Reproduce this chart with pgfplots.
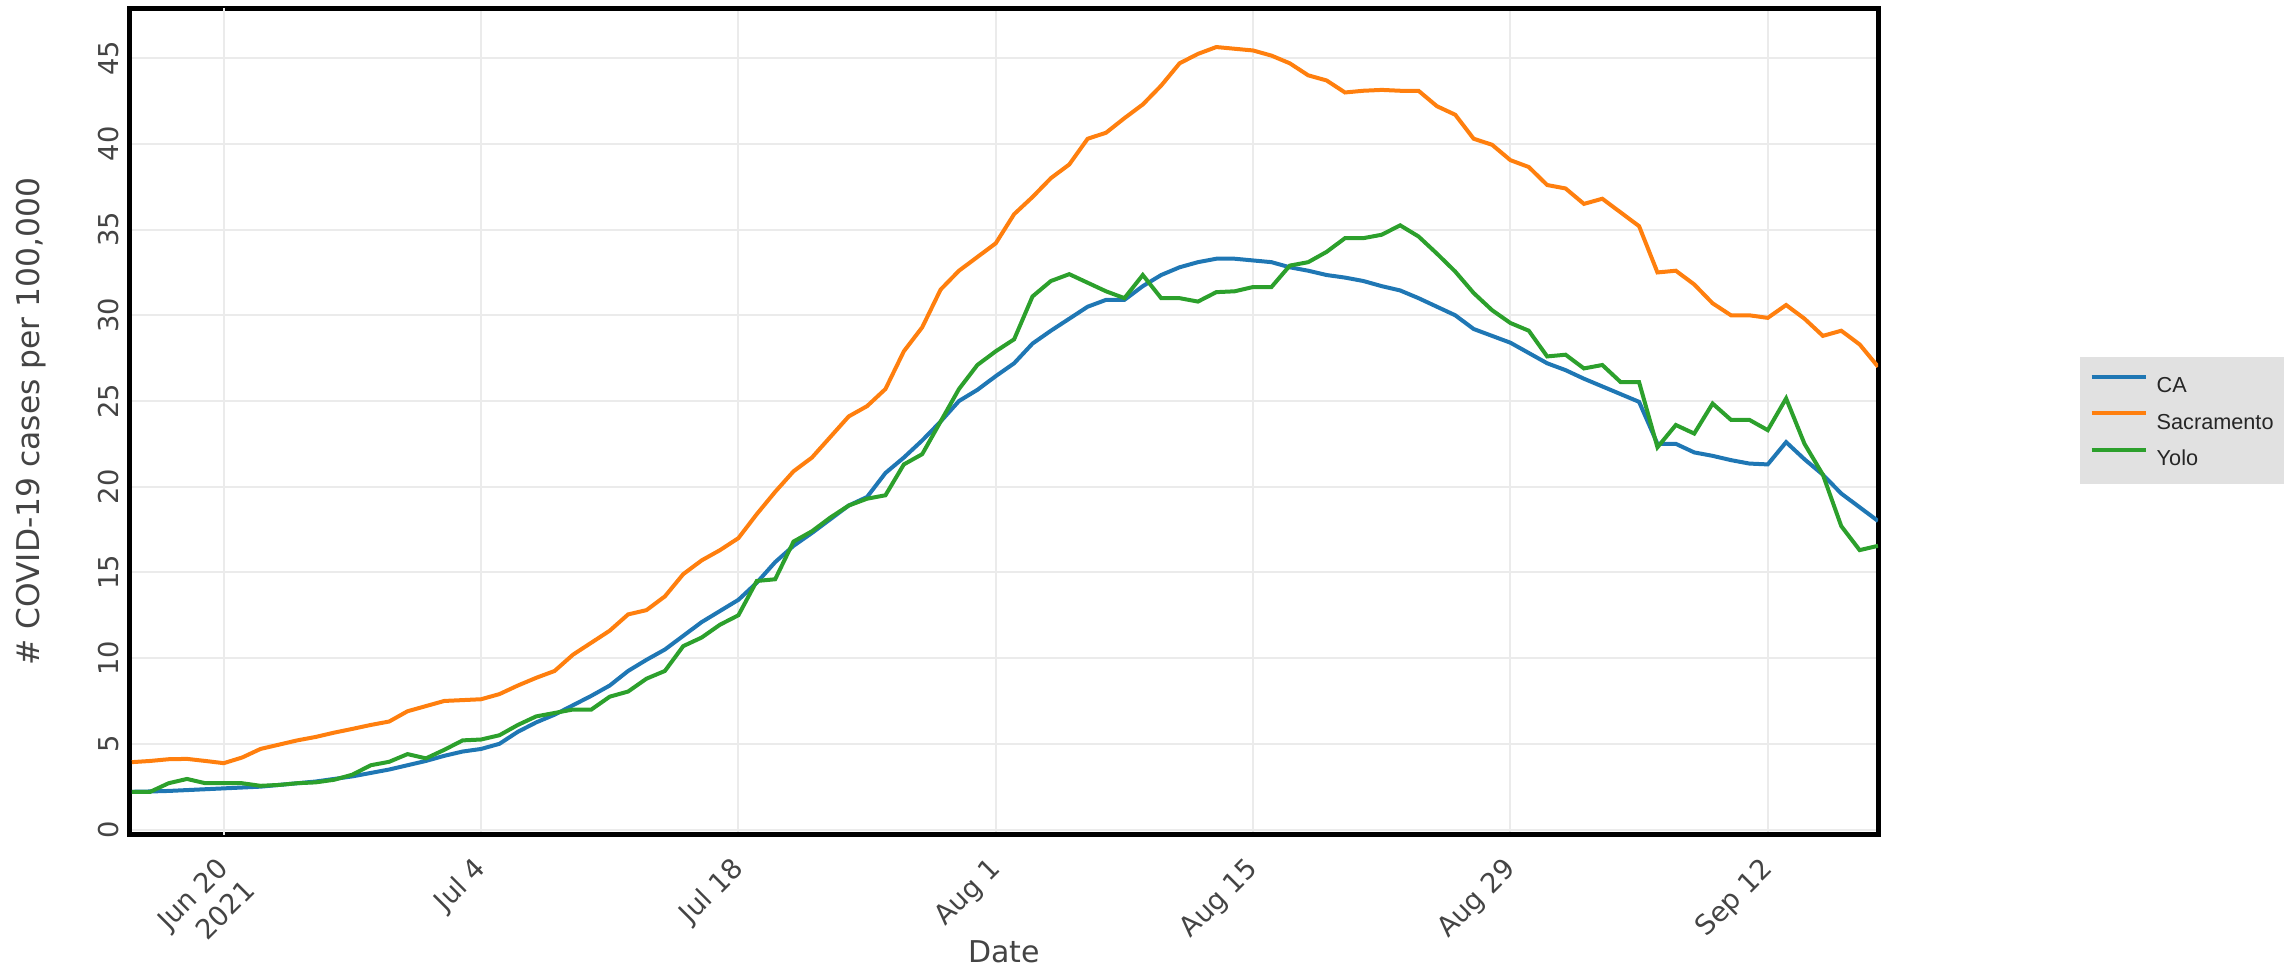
\documentclass[border=0pt]{standalone}
\usepackage{fontspec}
\setmainfont{DejaVu Sans}
\newfontfamily\legendfont{Liberation Sans}
\usepackage{pgfplots}
\pgfplotsset{compat=1.18}
\usepackage{pgfplotstable}
\definecolor{plblue}{HTML}{1F77B4}
\definecolor{plorange}{HTML}{FF7F0E}
\definecolor{plgreen}{HTML}{2CA02C}
\definecolor{gridgrey}{HTML}{EBEBEB}
\definecolor{txtgrey}{HTML}{444444}
\definecolor{leggrey}{HTML}{E1E1E1}

\pgfplotstableread{
d ca sac yolo
-5 2.2 3.93 2.2
-4 2.22 4.0 2.2
-3 2.25 4.1 2.7
-2 2.3 4.12 2.95
-1 2.35 4.0 2.7
0 2.4 3.87 2.7
1 2.45 4.2 2.7
2 2.5 4.7 2.55
3 2.6 4.95 2.6
4 2.7 5.2 2.7
5 2.8 5.4 2.75
6 2.95 5.65 2.9
7 3.1 5.87 3.2
8 3.3 6.1 3.75
9 3.5 6.3 3.95
10 3.75 6.9 4.4
11 4.0 7.2 4.15
12 4.3 7.5 4.65
13 4.55 7.55 5.2
14 4.7 7.6 5.25
15 5.0 7.9 5.5
16 5.7 8.4 6.1
17 6.25 8.85 6.6
18 6.7 9.25 6.8
19 7.25 10.2 7.0
20 7.8 10.9 7.0
21 8.4 11.6 7.75
22 9.25 12.55 8.05
23 9.9 12.8 8.8
24 10.5 13.6 9.25
25 11.3 14.9 10.7
26 12.1 15.7 11.2
27 12.75 16.3 11.95
28 13.4 17.0 12.5
29 14.4 18.4 14.5
30 15.6 19.7 14.6
31 16.55 20.9 16.8
32 17.3 21.7 17.4
33 18.1 22.9 18.2
34 18.9 24.1 18.9
35 19.4 24.7 19.3
36 20.8 25.7 19.5
37 21.7 27.9 21.3
38 22.7 29.3 21.9
39 23.8 31.5 23.8
40 25.0 32.6 25.7
41 25.65 33.4 27.1
42 26.45 34.2 27.9
43 27.2 35.9 28.6
44 28.35 36.9 31.1
45 29.1 38.0 32.0
46 29.8 38.8 32.4
47 30.5 40.3 31.9
48 30.9 40.65 31.4
49 30.9 41.5 31.0
50 31.7 42.3 32.35
51 32.35 43.4 31.0
52 32.8 44.7 31.0
53 33.1 45.25 30.8
54 33.3 45.65 31.35
55 33.3 45.55 31.4
56 33.2 45.45 31.65
57 33.1 45.15 31.65
58 32.8 44.7 32.9
59 32.6 44.0 33.1
60 32.35 43.7 33.7
61 32.2 43.0 34.5
62 32.0 43.1 34.5
63 31.7 43.15 34.7
64 31.45 43.1 35.25
65 31.0 43.1 34.6
66 30.5 42.2 33.6
67 30.0 41.7 32.55
68 29.2 40.3 31.3
69 28.8 39.95 30.3
70 28.4 39.05 29.55
71 27.8 38.65 29.1
72 27.2 37.6 27.6
73 26.8 37.4 27.7
74 26.3 36.5 26.9
75 25.85 36.8 27.1
76 25.4 36.0 26.1
77 24.95 35.2 26.1
78 22.5 32.5 22.3
79 22.5 32.6 23.6
80 22.0 31.8 23.1
81 21.8 30.7 24.85
82 21.55 30.0 23.9
83 21.35 30.0 23.9
84 21.3 29.85 23.3
85 22.6 30.6 25.15
86 21.6 29.8 22.5
87 20.7 28.8 20.7
88 19.6 29.1 17.7
89 18.8 28.3 16.3
90 18.0 27.0 16.55
}\datatable

\begin{document}
\begin{tikzpicture}
\path[use as bounding box] (0,0) rectangle (687pt,291pt);
\begin{axis}[
  at={(39pt,40.5pt)}, anchor=south west,
  scale only axis,
  width=524.4pt, height=247.95pt,
  xmin=-5.1, xmax=90,
  ymin=-0.32, ymax=47.9,
  xtick={0,14,28,42,56,70,84},
  xticklabels={{Jun 20},{Jul 4},{Jul 18},{Aug 1},{Aug 15},{Aug 29},{Sep 12}},
  extra x ticks={0},
  extra x tick labels={2021},
  extra x tick style={xticklabel style={xshift=1.06pt, yshift=-10.25pt}},
  ytick={0,5,...,45},
  major tick length=0pt,
  grid=major,
  major grid style={color=gridgrey, line width=0.6pt},
  axis line style={black, line width=1.5pt},
  /pgf/number format/assume math mode=true,
  tick label style={font=\fontsize{8.2}{9.5}\selectfont, text=txtgrey},
  xticklabel style={inner sep=0pt, xshift=2pt, yshift=-10.5pt, rotate=45, anchor=base east},
  yticklabel style={inner sep=0pt, xshift=-3pt, rotate=90, anchor=south},
  xlabel={Date},
  ylabel={\# COVID-19 cases per 100,000},
  label style={text=txtgrey},
  xlabel style={font=\fontsize{9.0}{11}\selectfont, at={(axis description cs:0.5,-0.1416)}, anchor=center},
  ylabel style={font=\fontsize{9.4}{11}\selectfont, at={(axis description cs:-0.0566,0.5)}, anchor=center},
  legend style={at={(axis description cs:1.115,0.5796)}, anchor=north west,
    draw=none, fill=leggrey, font=\legendfont\fontsize{6.5}{7.8}\selectfont,
    inner xsep=3pt, inner ysep=5.5pt, row sep=5.65pt,
    nodes={inner sep=0pt, text height=4.7pt, text depth=0pt, text=black!85}},
  legend cell align=left,
  /tikz/every odd column/.append style={column sep=2.7pt},
  legend image code/.code={\draw[#1] (0pt,2.35pt) -- (16.2pt,2.35pt);},
]
\addplot[plblue, line width=1.2pt] table[x=d, y=ca] {\datatable};
\addlegendentry{CA}
\addplot[plorange, line width=1.2pt] table[x=d, y=sac] {\datatable};
\addlegendentry{Sacramento}
\addplot[plgreen, line width=1.2pt] table[x=d, y=yolo] {\datatable};
\addlegendentry{Yolo}
\end{axis}
\end{tikzpicture}
\end{document}
